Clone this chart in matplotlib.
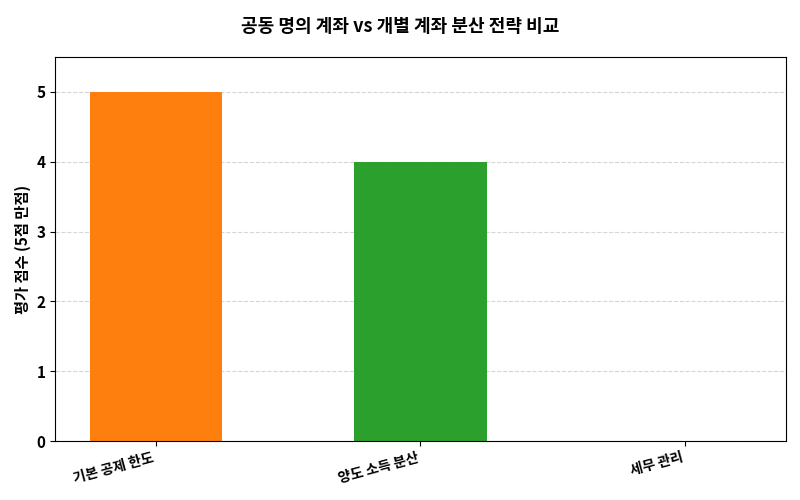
import matplotlib
matplotlib.use("Agg")
from matplotlib import pyplot as plt

plt.rcParams['font.family'] = ['Noto Sans CJK KR', 'DejaVu Sans']

categories = ['기본 공제 한도', '양도 소득 분산', '세무 관리']
scores = [5, 4, 0]
colors = ['#ff7f0e', '#2ca02c', '#d62728']

fig = plt.figure(figsize=(8, 5), dpi=100)
ax = fig.add_axes([0.069, 0.118, 0.913, 0.768])

ax.bar(range(len(categories)), scores, width=0.5, color=colors, zorder=2)
ax.set_xlim(-0.38, 2.38)
ax.set_ylim(0, 5.5)
ax.set_xticks(range(len(categories)))
ax.set_xticklabels(categories, rotation=15, ha='right', fontweight='bold', fontsize=10)
ax.set_yticks(range(6))
ax.set_yticklabels([str(i) for i in range(6)], fontweight='bold', fontsize=11)
ax.set_ylabel('평가 점수 (5점 만점)', fontweight='bold', fontsize=11)
ax.grid(axis='y', linestyle='--', color='#cccccc', alpha=0.8, zorder=0)
fig.suptitle('공동 명의 계좌 vs 개별 계좌 분산 전략 비교', fontweight='bold', fontsize=13, y=0.965)

fig.savefig('out.png')
